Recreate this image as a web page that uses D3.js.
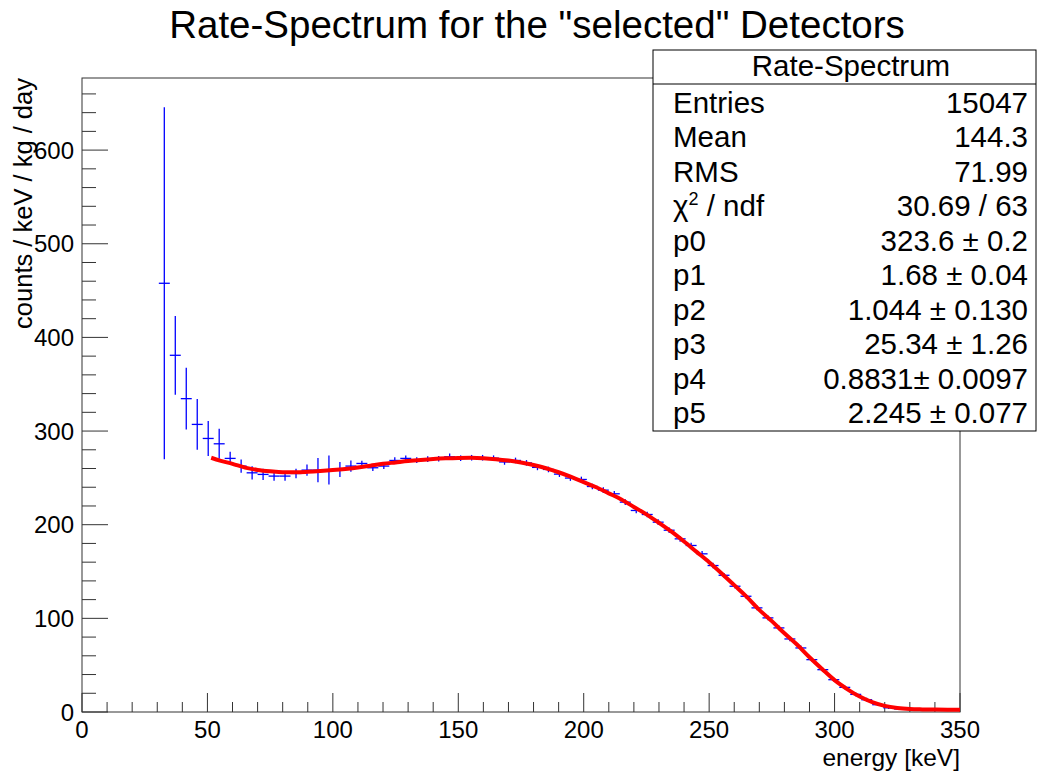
<!DOCTYPE html>
<html>
<head>
<meta charset="utf-8">
<title>Rate-Spectrum</title>
<style>
  body { margin: 0; background: #fff; }
  text { font-family: "Liberation Sans", Arial, sans-serif; fill: #000; }
</style>
</head>
<body>
<script src="https://cdnjs.cloudflare.com/ajax/libs/d3/7.8.5/d3.min.js"></script>
<script>
// histogram: 80 bins over 0..350 keV, first filled bin is #7
var nBins = 80, firstBin = 7;
var rates = [457.8, 380.9, 334.6, 307.1, 292.1, 286.4, 270.8, 262.6, 255.4, 253.7,
             251.9, 251.9, 254.7, 258.3, 258.3, 258.3, 259.0, 262.6, 265.4, 260.8,
             262.6, 268.6, 270.8, 269.0, 270.0, 270.4, 272.5, 271.0, 271.5, 271.5,
             271.0, 267.0, 268.6, 266.0, 261.2, 259.0, 254.0, 249.8, 248.3, 240.8,
             236.9, 233.0, 224.1, 215.2, 210.9, 202.7, 194.1, 184.9, 177.8, 168.9,
             156.4, 146.0, 134.3, 123.6, 111.2, 100.5, 89.8, 78.0, 68.4, 55.9,
             45.2, 34.5, 26.3, 18.8, 13.1, 7.8, 4.5, 3.2, 2.8, 2.6,
             2.5, 2.5, 2.5];
var rateErrors = [188, 42, 33, 27, 18.7, 16, 7, 7, 7, 6,
                  5, 5, 5, 6, 13, 15.5, 8, 6, 3, 3.5,
                  3, 3.5, 3, 3, 3, 3, 3.5, 3, 3, 3,
                  3, 3, 3, 3, 3, 3, 3, 3, 3, 3,
                  3, 3, 3, 3, 3, 3, 3, 3, 3, 3,
                  3, 2.5, 2.5, 2.5, 2.5, 2.5, 2.5, 2.5, 2.5, 2,
                  2, 2, 2, 2, 2, 1.5, 1.2, 1, 1, 1,
                  1, 1, 1];

// fit curve
var fitEnergy = [51.5, 55, 60, 65, 70, 75, 80, 85, 90, 95, 100, 105, 110, 115, 120, 125, 130, 135, 140, 145,
                 150, 155, 160, 165, 170, 175, 180, 185, 190, 195, 200, 205, 210, 215, 220, 225, 230, 235, 240, 245,
                 250, 255, 260, 265, 270, 275, 280, 285, 290, 295, 300, 305, 310, 315, 320, 325, 330, 335, 340, 345, 350];
var fitRate = [271.5, 268.5, 265, 261, 258.5, 257, 256, 256, 256.5, 257.3, 258.3, 259.5, 261, 263, 265, 266.5, 268, 269.2, 270.2, 270.9,
               271.3, 271.4, 271, 270, 268.5, 266.5, 263.8, 260.3, 256, 251, 245.5, 240, 233.5, 227, 219, 211, 202, 192.5, 182, 171,
               160, 148, 135.5, 123, 109, 97, 84, 72, 58.5, 46, 34, 24.5, 16.5, 10.5, 6.5, 4.3, 3.2, 2.8, 2.6, 2.5, 2.5];

var statTitle = "Rate-Spectrum";
var statLabels = ["Entries", "Mean", "RMS", "chi2 / ndf", "p0", "p1", "p2", "p3", "p4", "p5"];
var statValues = ["15047", "144.3", "71.99", "30.69 / 63", "323.6 \u00b1 0.2", "1.68 \u00b1 0.04",
                  "1.044 \u00b1 0.130", "25.34 \u00b1 1.26", "0.8831\u00b1 0.0097", "2.245 \u00b1 0.077"];

var W = 1038, H = 772;
var margin = {top: 78, right: 78, bottom: 60, left: 82},
    width = W - margin.left - margin.right,
    height = H - margin.top - margin.bottom;

var binW = 350 / nBins;
var data = rates.map(function(v, i) {
  var b = firstBin + i;
  return {lo: b * binW, hi: (b + 1) * binW, mid: (b + 0.5) * binW, v: v, e: rateErrors[i]};
});

var x = d3.scaleLinear().domain([0, 350]).range([0, width]);
var y = d3.scaleLinear().domain([0, 677]).range([height, 0]);

var svg = d3.select("body").append("svg")
    .attr("width", W).attr("height", H);

svg.append("text")
    .attr("x", 537).attr("y", 38)
    .attr("text-anchor", "middle")
    .style("font-size", "38.5px")
    .text("Rate-Spectrum for the \"selected\" Detectors");

var g = svg.append("g")
    .attr("transform", "translate(" + margin.left + "," + margin.top + ")");

// frame
g.append("rect")
    .attr("width", width).attr("height", height)
    .attr("fill", "none").attr("stroke", "#333");

// ticks drawn inside the frame, ROOT style
var xMinor = d3.range(0, 351, 10);
g.selectAll(".xtick").data(xMinor).enter().append("line")
    .attr("x1", function(d) { return x(d); }).attr("x2", function(d) { return x(d); })
    .attr("y1", height)
    .attr("y2", function(d) { return height - (d % 50 === 0 ? 19 : 10); })
    .attr("stroke", "#333");
g.selectAll(".xlab").data(d3.range(0, 351, 50)).enter().append("text")
    .attr("x", function(d) { return x(d); }).attr("y", height + 26)
    .attr("text-anchor", "middle").style("font-size", "24px")
    .text(function(d) { return d; });

var yMinor = d3.range(0, 677, 20);
g.selectAll(".ytick").data(yMinor).enter().append("line")
    .attr("y1", function(d) { return y(d); }).attr("y2", function(d) { return y(d); })
    .attr("x1", 0)
    .attr("x2", function(d) { return d % 100 === 0 ? 26 : 14; })
    .attr("stroke", "#333");
g.selectAll(".ylab").data(d3.range(0, 677, 100)).enter().append("text")
    .attr("x", -8).attr("y", function(d) { return y(d) + 8.5; })
    .attr("text-anchor", "end").style("font-size", "24px")
    .text(function(d) { return d; });

svg.append("text")
    .attr("x", 960).attr("y", 766)
    .attr("text-anchor", "end").style("font-size", "24.5px")
    .text("energy [keV]");
svg.append("text")
    .attr("transform", "translate(32,78) rotate(-90)")
    .attr("text-anchor", "end").style("font-size", "25.5px")
    .text("counts / keV / kg / day");

// error bars
var pts = g.append("g").attr("stroke", "#0000ff").attr("stroke-width", 1.3);
pts.selectAll(".h").data(data).enter().append("line")
    .attr("x1", function(d) { return x(d.lo); }).attr("x2", function(d) { return x(d.hi); })
    .attr("y1", function(d) { return y(d.v); }).attr("y2", function(d) { return y(d.v); });
pts.selectAll(".v").data(data).enter().append("line")
    .attr("x1", function(d) { return x(d.mid); }).attr("x2", function(d) { return x(d.mid); })
    .attr("y1", function(d) { return y(d.v - d.e); }).attr("y2", function(d) { return y(d.v + d.e); });

// fit
var line = d3.line()
    .x(function(d, i) { return x(fitEnergy[i]); })
    .y(function(d) { return y(d); })
    .curve(d3.curveMonotoneX);
g.append("path").datum(fitRate)
    .attr("d", line)
    .attr("fill", "none").attr("stroke", "#ff0000").attr("stroke-width", 4);

// stats box
var bx = 653, by = 50, bw = 383, bh = 381;
svg.append("rect").attr("x", bx).attr("y", by).attr("width", bw).attr("height", bh)
    .attr("fill", "#fff").attr("stroke", "#000");
svg.append("line").attr("x1", bx).attr("x2", bx + bw).attr("y1", 84).attr("y2", 84)
    .attr("stroke", "#000");
svg.append("text").attr("x", 851).attr("y", 76)
    .attr("text-anchor", "middle").style("font-size", "29.5px").text(statTitle);

var rowY = d3.scaleLinear().domain([0, 9]).range([113, 423]);
statLabels.forEach(function(lab, i) {
  var t = svg.append("text").attr("x", 673).attr("y", rowY(i)).style("font-size", "29.5px");
  if (lab === "chi2 / ndf") {
    t.append("tspan").text("\u03c7");
    t.append("tspan").attr("dy", -11).style("font-size", "18px").text("2");
    t.append("tspan").attr("dy", 11).text(" / ndf");
  } else {
    t.text(lab);
  }
  svg.append("text").attr("x", 1028).attr("y", rowY(i))
      .attr("text-anchor", "end").style("font-size", "29.5px").text(statValues[i]);
});
</script>
</body>
</html>
